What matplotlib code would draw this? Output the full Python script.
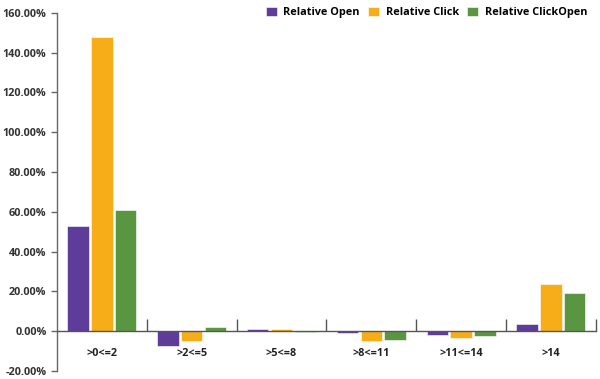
import numpy as np
import matplotlib
matplotlib.use('Agg')
import matplotlib.pyplot as plt
from matplotlib.ticker import FuncFormatter

categories = ['>0<=2', '>2<=5', '>5<=8', '>8<=11', '>11<=14', '>14']
series_names = ['Relative Open', 'Relative Click', 'Relative ClickOpen']
rel_open = [52.8, -7.5, 1.0, -0.8, -1.7, 3.5]
rel_click = [147.8, -5.0, 1.0, -4.8, -3.6, 23.8]
rel_clickopen = [60.8, 2.0, -0.3, -4.5, -2.2, 19.0]
colors = ['#5e3c99', '#f6ad17', '#5a9641']

plt.rcParams['font.family'] = ['Open Sans', 'DejaVu Sans']

fig = plt.figure(figsize=(6, 3.79), dpi=100)
ax = fig.add_axes([0.095, 0.021, 0.898, 0.945])

x = np.arange(len(categories))
width = 0.24
step = 0.265
for i, (vals, name) in enumerate(zip([rel_open, rel_click, rel_clickopen], series_names)):
    ax.bar(x + (i - 1) * step, vals, width, color=colors[i], label=name,
           edgecolor='white', linewidth=0.4)

ax.set_xlim(-0.5, len(categories) - 0.5)
ax.set_ylim(-20, 160)
ax.set_yticks(np.arange(-20, 161, 20))
ax.yaxis.set_major_formatter(FuncFormatter(lambda v, p: '%.2f%%' % v))

for s in ['top', 'right']:
    ax.spines[s].set_visible(False)
ax.spines['left'].set_color('#666666')
ax.spines['left'].set_linewidth(1.0)
ax.spines['bottom'].set_position(('data', 0))
ax.spines['bottom'].set_color('#555555')
ax.spines['bottom'].set_linewidth(1.0)

ax.set_xticks(x)
ax.set_xticklabels(categories)
ax.set_xticks(np.arange(0.5, len(categories), 1), minor=True)
ax.tick_params(axis='x', which='major', length=0, pad=12, labelsize=7.8, labelcolor='#222222')
ax.tick_params(axis='x', which='minor', direction='in', length=9, width=1, color='#555555')
ax.tick_params(axis='y', length=4, width=1, color='#666666', labelsize=7.8, labelcolor='#333333')
for lab in ax.get_xticklabels() + ax.get_yticklabels():
    lab.set_fontweight('bold')

fig.legend(loc='upper right', bbox_to_anchor=(0.995, 1.008), ncol=3, frameon=False,
           handlelength=1.0, handleheight=1.0, handletextpad=0.6, columnspacing=0.8,
           prop={'size': 7.8, 'weight': 'bold'})

fig.savefig('out.png', dpi=100)
